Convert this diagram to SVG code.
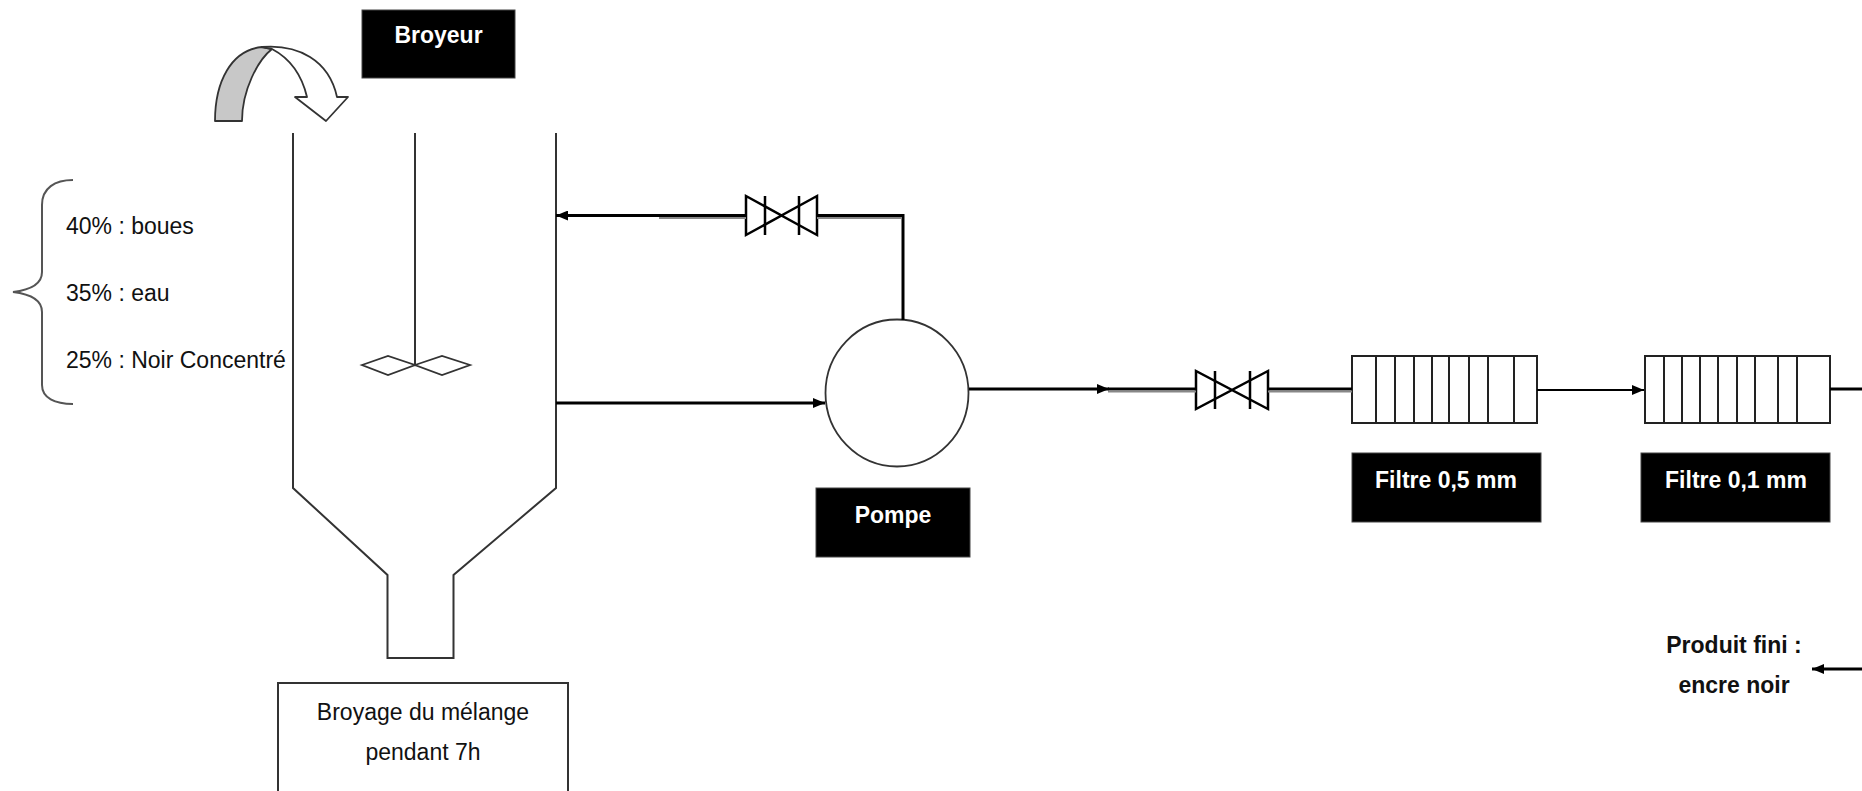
<svg xmlns="http://www.w3.org/2000/svg" width="1862" height="791" viewBox="0 0 1862 791">
<defs>
<style>
.t{font-family:"Liberation Sans",Arial,sans-serif;font-size:23px;fill:#111}
.b{font-family:"Liberation Sans",Arial,sans-serif;font-size:23px;font-weight:bold}
.w{fill:#fff}
.out{fill:none;stroke:#333;stroke-width:2}
.flow{fill:none;stroke:#000;stroke-width:3}
.thin{fill:none;stroke:#000;stroke-width:1.8}
.pipe2{fill:none;stroke:#888;stroke-width:2}
.valve{fill:#fff;stroke:#000;stroke-width:2.5;stroke-linejoin:miter}
.box{fill:#000;stroke:#444;stroke-width:1}
.filt{fill:#fff;stroke:#222;stroke-width:2}
</style>
<marker id="ah" viewBox="0 0 12 10" refX="12" refY="5" markerWidth="13" markerHeight="10" markerUnits="userSpaceOnUse" orient="auto">
<path d="M0,0 L12,5 L0,10 Z" fill="#000"/>
</marker>
</defs>
<rect width="1862" height="791" fill="#fff"/>

<g id="rotation-arrow">
<path d="M215,121 C215,82 231,50 262,47 L272,49 C258,60 242,90 242,121 Z" fill="#c8c8c8" stroke="#333" stroke-width="1.8" stroke-linejoin="round"/>
<path d="M262,47 C298,44 329,60 337,97 L348,97 L326,121 L295,97 L307,97 C302,76 291,59 272,49 Z" fill="#fff" stroke="#333" stroke-width="1.8" stroke-linejoin="round"/>
</g>

<g id="broyeur-label">
<rect class="box" x="362" y="10" width="153" height="68"/>
<text class="b w" x="438.5" y="43" text-anchor="middle">Broyeur</text>
</g>

<g id="tank">
<path class="out" d="M293,133 V488 L387.5,575 V658 H453.5 V575 L556,488 V133"/>
<path class="out" d="M415,133 V365"/>
<path d="M362,365 L388,356 L415,365 L388,375 Z M415,365 L442,356 L470,365 L442,375 Z" fill="#fff" stroke="#333" stroke-width="1.8"/>
</g>

<g id="ingredients">
<path d="M73,180 C55,180 42,188 42,205 L42,272 C42,284 30,290 13,292 C30,294 42,300 42,312 L42,385 C42,398 55,404 73,404" fill="none" stroke="#555" stroke-width="2"/>
<text class="t" x="66" y="234">40% : boues</text>
<text class="t" x="66" y="301">35% : eau</text>
<text class="t" x="66" y="368">25% : Noir Concentré</text>
</g>

<g id="broyage-box">
<rect x="278" y="683" width="290" height="120" fill="#fff" stroke="#333" stroke-width="2"/>
<text class="t" x="423" y="720" text-anchor="middle">Broyage du mélange</text>
<text class="t" x="423" y="760" text-anchor="middle">pendant 7h</text>
</g>

<g id="valve-1">
<path class="valve" d="M746,196 L746,235 L781.5,215.5 Z M817,196 L817,235 L781.5,215.5 Z"/>
<path class="valve" d="M765,196 V235 M799,196 V235"/>
</g>

<g id="pump">
<ellipse cx="897" cy="393" rx="71.5" ry="73.5" fill="#fff" stroke="#333" stroke-width="1.8"/>
</g>

<g id="pompe-label">
<rect class="box" x="816" y="488" width="154" height="69"/>
<text class="b w" x="893" y="523" text-anchor="middle">Pompe</text>
</g>

<g id="valve-2">
<path class="valve" d="M1196,371 L1196,409 L1232,390 Z M1268,371 L1268,409 L1232,390 Z"/>
<path class="valve" d="M1215,371 V409 M1250,371 V409"/>
</g>

<g id="filter-1">
<rect class="filt" x="1352" y="356" width="185" height="67"/>
<path class="filt" d="M1376,356 V423 M1395,356 V423 M1414,356 V423 M1432,356 V423 M1449,356 V423 M1469,356 V423 M1488,356 V423 M1514,356 V423"/>
</g>
<g id="filter-1-label">
<rect class="box" x="1352" y="453" width="189" height="69"/>
<text class="b w" x="1446" y="488" text-anchor="middle">Filtre 0,5 mm</text>
</g>

<g id="filter-2">
<rect class="filt" x="1645" y="356" width="185" height="67"/>
<path class="filt" d="M1664,356 V423 M1682,356 V423 M1700,356 V423 M1718,356 V423 M1737,356 V423 M1755,356 V423 M1778,356 V423 M1797,356 V423"/>
</g>
<g id="filter-2-label">
<rect class="box" x="1641" y="453" width="189" height="69"/>
<text class="b w" x="1736" y="488" text-anchor="middle">Filtre 0,1 mm</text>
</g>

<g id="product">
<text class="b" x="1734" y="653" text-anchor="middle" fill="#111">Produit fini :</text>
<text class="b" x="1734" y="693" text-anchor="middle" fill="#111">encre noir</text>
</g>

<g id="connectors">
<path class="flow" d="M903,320 V214"/>
<path class="flow" d="M904,215.5 H817" stroke-width="2.5"/>
<path class="pipe2" d="M902,218 H817"/>
<path class="flow" d="M746,215.5 H659" stroke-width="2.5"/>
<path class="pipe2" d="M746,218 H659"/>
<path class="flow" d="M660,215.5 H556" marker-end="url(#ah)"/>
<path class="flow" d="M556,403 H825" marker-end="url(#ah)"/>
<path class="flow" d="M969,389 H1109" marker-end="url(#ah)"/>
<path class="flow" d="M1108,389 H1196" stroke-width="2.5"/>
<path class="pipe2" d="M1108,391.5 H1196"/>
<path class="flow" d="M1268,389 H1352" stroke-width="2.5"/>
<path class="pipe2" d="M1268,391.5 H1352"/>
<path class="thin" d="M1537,390 H1644" marker-end="url(#ah)"/>
<path class="flow" d="M1830,389 H1862"/>
<path class="flow" d="M1862,669 H1812" marker-end="url(#ah)"/>
</g>
</svg>
